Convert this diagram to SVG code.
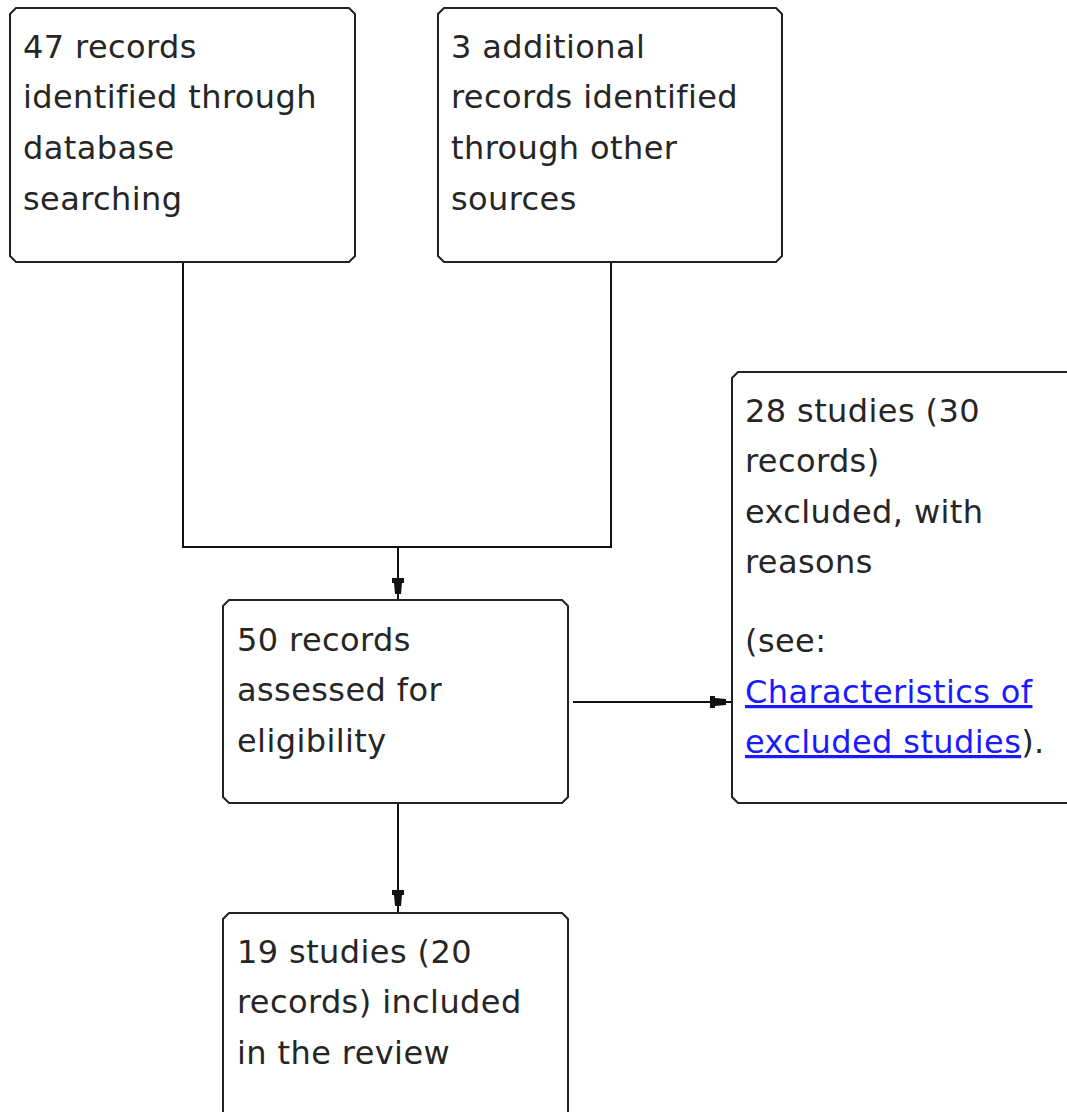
<svg xmlns="http://www.w3.org/2000/svg" width="1067" height="1112" viewBox="0 0 1067 1112">
<style>
.box{fill:#fff;stroke:#222;stroke-width:2}
.t{font-family:"DejaVu Sans",sans-serif;font-size:32px;fill:#262626;letter-spacing:0.4px}
.lnk{fill:#1a1aff;text-decoration:underline}
.c{fill:none;stroke:#111;stroke-width:2}
</style>
<defs>
<marker id="ah" markerUnits="userSpaceOnUse" markerWidth="20" markerHeight="16" refX="16" refY="7" orient="auto" viewBox="0 0 20 14">
<path d="M0,1 L5,1 L5,3 L16,4 L16,10 L5,11 L5,13 L0,13 Z" fill="#111"/>
</marker>
</defs>
<rect width="1067" height="1112" fill="#fff"/>
<g id="connectors">
<path class="c" d="M183,262 V547 H611 V262"/>
<path class="c" d="M398,547 V594" marker-end="url(#ah)"/>
<line class="c" x1="398" y1="594" x2="398" y2="600"/>
<path class="c" d="M573,702 H726" marker-end="url(#ah)"/>
<line class="c" x1="726" y1="702" x2="732" y2="702"/>
<path class="c" d="M398,803 V906" marker-end="url(#ah)"/>
<line class="c" x1="398" y1="906" x2="398" y2="913"/>
</g>
<g id="n1">
<path class="box" d="M16,8 H349 L355,14 V256 L349,262 H16 L10,256 V14 Z"/>
<text class="t" x="23" y="58">47 records</text>
<text class="t" x="23" y="108">identified through</text>
<text class="t" x="23" y="159">database</text>
<text class="t" x="23" y="210">searching</text>
</g>
<g id="n2">
<path class="box" d="M444,8 H776 L782,14 V256 L776,262 H444 L438,256 V14 Z"/>
<text class="t" x="451" y="58">3 additional</text>
<text class="t" x="451" y="108">records identified</text>
<text class="t" x="451" y="159">through other</text>
<text class="t" x="451" y="210">sources</text>
</g>
<g id="n3">
<path class="box" d="M229,600 H562 L568,606 V797 L562,803 H229 L223,797 V606 Z"/>
<text class="t" x="237" y="651">50 records</text>
<text class="t" x="237" y="701">assessed for</text>
<text class="t" x="237" y="752">eligibility</text>
</g>
<g id="n4">
<path class="box" d="M738,372 H1080 V803 H738 L732,797 V378 Z"/>
<text class="t" x="745" y="422">28 studies (30</text>
<text class="t" x="745" y="472">records)</text>
<text class="t" x="745" y="523">excluded, with</text>
<text class="t" x="745" y="573">reasons</text>
<text class="t" x="745" y="652">(see:</text>
<text class="t" x="745" y="703"><tspan class="lnk">Characteristics of</tspan></text>
<text class="t" x="745" y="753"><tspan class="lnk">excluded studies</tspan>).</text>
</g>
<g id="n5">
<path class="box" d="M229,913 H562 L568,919 V1120 H223 V919 Z"/>
<text class="t" x="237" y="963">19 studies (20</text>
<text class="t" x="237" y="1013">records) included</text>
<text class="t" x="237" y="1064">in the review</text>
</g>
</svg>
